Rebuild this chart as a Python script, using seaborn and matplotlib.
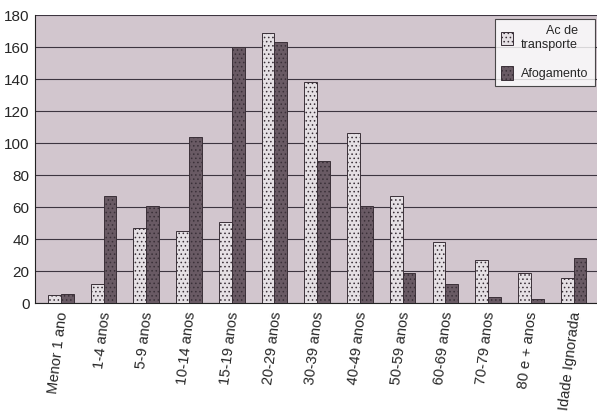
import numpy as np
import pandas as pd
import matplotlib
matplotlib.use("Agg")
import matplotlib.pyplot as plt
import seaborn as sns

faixas = ["Menor 1 ano", "1-4 anos", "5-9 anos", "10-14 anos", "15-19 anos",
          "20-29 anos", "30-39 anos", "40-49 anos", "50-59 anos", "60-69 anos",
          "70-79 anos", "80 e + anos", "Idade Ignorada"]
transporte = [5, 12, 47, 45, 51, 169, 138, 106, 67, 38, 27, 19, 16]
afogamento = [6, 67, 61, 104, 160, 163, 89, 61, 19, 12, 4, 2.5, 28]
series = ["Ac de\ntransporte", "Afogamento"]

BG_PLOT = "#d2c6ce"
LIGHT = "#e6dfe4"
DARK = "#6b5865"

df = pd.DataFrame({
    "faixa": faixas * 2,
    "valor": transporte + afogamento,
    "serie": [series[0]] * len(faixas) + [series[1]] * len(faixas),
})

sns.set_style("white")
plt.rcParams["font.family"] = ["Liberation Sans", "DejaVu Sans"]
plt.rcParams["hatch.color"] = "#8a7a86"
plt.rcParams["hatch.linewidth"] = 0.6

fig = plt.figure(figsize=(5.97, 4.17), dpi=100)
ax = fig.add_axes([0.059, 0.273, 0.941, 0.691])
ax.set_facecolor(BG_PLOT)

sns.barplot(data=df, x="faixa", y="valor", hue="serie", order=faixas,
            hue_order=series, palette=[LIGHT, DARK], width=0.6,
            edgecolor="#3a3038", linewidth=0.7, ax=ax, zorder=3)

for p in ax.patches:
    p.set_hatch("....")

ax.set_ylim(0, 180)
ax.set_yticks(range(0, 181, 20))
ax.set_xlim(-0.6, len(faixas) - 0.45)
ax.yaxis.grid(True, color="#3d3540", linewidth=0.8, zorder=1)
ax.set_axisbelow(True)
ax.set_xlabel("")
ax.set_ylabel("")

for s in ["top", "right"]:
    ax.spines[s].set_visible(False)
ax.spines["left"].set_color("#222222")
ax.spines["bottom"].set_color("#222222")

ax.tick_params(axis="y", labelsize=11, length=0, pad=4)
ax.tick_params(axis="x", which="major", length=0, labelsize=10.5, pad=6)
ax.set_xticks(np.arange(len(faixas)) + 0.05)
ax.set_xticklabels(faixas, rotation=83, ha="right", va="center",
                   rotation_mode="anchor")
ax.set_xticks(np.arange(len(faixas) + 1) - 0.5, minor=True)
ax.tick_params(axis="x", which="minor", length=3, color="#222222")

leg = ax.legend(loc="upper right", bbox_to_anchor=(1.0, 0.995), frameon=True,
                fontsize=9, handlelength=1.0, handleheight=1.3,
                borderpad=0.5, labelspacing=1.2, handletextpad=0.6,
                borderaxespad=0.2, fancybox=False, edgecolor="#222222",
                title=None)
leg.get_frame().set_facecolor("white")
leg.get_frame().set_linewidth(0.8)
for t in leg.get_texts():
    t.set_multialignment("right")

fig.savefig("out.png", dpi=100, facecolor="white")
